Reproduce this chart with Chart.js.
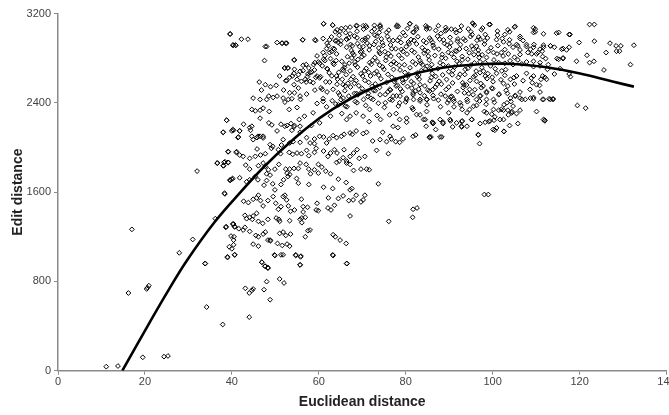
<!DOCTYPE html>
<html>
<head>
<meta charset="utf-8">
<script src="https://cdn.jsdelivr.net/npm/chart.js@4.4.1/dist/chart.umd.min.js"></script>
<style>
  html, body { margin: 0; padding: 0; background: #fff; overflow: hidden; }
</style>
</head>
<body>
<canvas id="chart" width="680" height="415"></canvas>
<script>
// scatter, [euclidean, edit] pairs, grouped by area
const lowScatter = [
  [11.1,36],[13.8,42],[16.2,696],[17.0,1266],[19.5,120],[20.4,732],[20.6,744],[20.9,762],[24.4,126],[25.3,132],
  [27.9,1056],[31.0,1176],[32.0,1788],[33.9,960],[34.2,570],[36.2,1362],[37.9,414],[38.4,1584],[38.7,1290],[39.0,1014],
  [39.8,1206],[40.4,1170],[40.5,1200],[40.4,1314],[40.7,1290],[40.7,1038],[43.1,738],[44.0,696],[44.6,720],[44.9,732],
  [44.0,480],[46.9,972],[47.6,936],[48.3,918],[47.4,726],[48.0,798],[48.8,636],[49.8,1038],[51.3,1038],[51.0,822],
  [52.0,786],[54.7,1038],[55.9,1026],[55.7,948],[63.2,1038],[66.5,960],[39.6,3018],[40.2,2916],[40.9,2916],[38.8,2244],
  [40.2,2160],[41.4,2088],[39.1,1962],[41.1,1962],[36.7,1860],[38.2,1866],[39.1,1866],[38.1,1836],[39.6,1710],[40.2,1722]
];

const risingFlank = [
  [38.0,2136],[40.4,2154],[41.8,2148],[44.3,2154],[46.5,2100],[47.2,2085],[48.8,2025],[49.4,2010],[45.8,2088],[44.9,2070],
  [51.4,2022],[51.8,2070],[53.3,2040],[54.1,2052],[55.7,2136],[55.7,2046],[57.2,2088],[58.0,2040],[59.0,2076],[59.0,2034],
  [60.2,2100],[61.1,2094],[61.8,2040],[62.4,2076],[63.3,2106],[64.1,2088],[65.2,2100],[65.8,2118],[67.2,2130],[67.7,2118],
  [68.6,2148],[70.2,2124],[71.0,2136],[72.4,2058],[74.1,2070],[74.7,2136],[75.6,2052],[76.7,2076],[77.7,2052],[78.6,2046],
  [79.4,2076],[81.7,2100],[82.3,2112],[85.5,2094],
  [39.2,1962],[41.0,1956],[42.6,1920],[41.8,1932],[44.1,1902],[45.4,1920],[46.6,1932],[47.7,1944],[45.8,1986],[49.1,1992],
  [50.7,1980],[51.2,1944],[53.2,1956],[54.0,1938],[55.0,1950],[56.0,1944],[57.2,1974],[57.7,1926],[59.0,1956],[59.4,1992],
  [61.1,1968],[62.1,1920],[62.7,1950],[63.6,1980],[64.2,1950],[65.6,1908],[66.4,1878],[65.8,1980],[67.2,1920],[68.0,1950],
  [68.8,1980],[69.3,1902],[70.6,1920],[73.3,1974],[76.0,1944],
  [36.6,1860],[38.0,1836],[38.4,1872],[39.2,1866],[40.0,1716],[39.6,1704],[43.2,1842],[44.1,1806],[46.1,1836],[47.2,1860],
  [47.7,1830],[48.4,1800],[48.0,1764],[49.9,1806],[50.8,1848],[52.4,1806],[52.7,1770],[53.3,1806],[54.3,1812],[55.3,1812],
  [55.7,1860],[57.1,1848],[57.7,1806],[58.1,1764],[59.0,1800],[59.9,1770],[59.9,1848],[60.7,1824],[61.6,1788],[62.7,1764],
  [64.1,1866],[64.7,1878],[66.4,1860],[67.2,1848],[68.0,1794],[69.7,1806],[71.0,1806],[71.6,1800],[73.7,1674],
  [41.8,1728],[43.4,1692],[44.1,1710],[45.4,1740],[46.0,1710],[47.4,1662],[48.0,1704],[48.8,1752],[49.4,1674],[49.9,1620],
  [51.3,1668],[51.9,1710],[52.9,1740],[53.3,1758],[54.9,1722],[55.3,1680],[57.7,1668],[61.1,1644],[63.2,1632],[64.5,1716],
  [66.3,1686],[67.2,1620],[67.6,1632],[68.6,1572],[69.7,1512],[70.2,1530],[70.6,1572],[65.6,1566],[64.5,1542],[63.6,1482],
  [62.2,1548],[66.9,1524],[67.9,1530],[38.3,1590],[38.6,1284],
  [42.7,1518],[43.8,1506],[44.9,1536],[45.7,1548],[46.1,1572],[46.6,1524],[47.2,1476],[48.3,1524],[49.5,1560],[50.1,1500],
  [50.7,1446],[51.3,1470],[51.8,1560],[52.2,1572],[52.6,1530],[53.0,1476],[53.5,1428],[54.4,1440],[56.0,1536],[56.4,1470],
  [57.4,1464],[59.6,1500],[59.9,1434],[62.1,1458],[62.8,1440],[59.4,1440],
  [43.0,1392],[43.4,1362],[44.1,1374],[44.7,1356],[44.9,1386],[45.7,1410],[46.1,1338],[47.1,1320],[48.3,1356],[50.2,1368],
  [50.8,1356],[51.0,1338],[53.3,1344],[55.7,1356],[56.1,1368],[56.4,1422],[56.1,1326],[56.9,1374],[57.5,1254],[56.9,1200],
  [58.0,1260],[67.2,1386],[76.1,1338],[81.6,1374],[81.7,1446],[82.6,1458],
  [40.2,1314],[40.6,1290],[41.6,1272],[42.6,1260],[43.0,1284],[44.1,1248],[45.5,1212],[46.1,1200],[47.2,1224],[47.7,1242],
  [48.3,1170],[48.9,1164],[51.0,1230],[51.8,1242],[52.4,1212],[53.5,1224],[63.3,1218],[63.8,1200],[64.9,1170],[66.3,1140],
  [39.4,1110],[40.4,1128],[40.0,1092],[40.6,1038],[39.0,1020],[44.9,1134],[46.1,1116],[48.8,1170],[49.9,1032],[50.5,1140],
  [51.6,1122],[52.7,1134],[51.8,1038],[53.3,1116],[54.7,1032],[55.8,1020],[55.7,948],[63.3,1032],[66.4,960],[33.8,960],
  [46.9,972],[47.7,936],[48.3,924]
];

const upperFlank = [
  [39.6,3015],[40.4,2916],[40.9,2916],[42.2,2970],[43.7,2970],[47.7,2904],[48.0,2904],[50.4,2940],[51.5,2934],[52.6,2934],
  [47.5,2778],[52.2,2712],[52.9,2712],[54.3,2784],[56.3,2964],[59.3,2958],[61.1,3108],[63.2,3096],[64.2,3054],[64.9,3042],
  [63.8,3036],[66.4,2970],[67.2,3018],[68.6,3090],[70.2,3090],[71.0,3078],[74.1,3096],[74.2,3066],[75.6,3030],
  [61.9,2934],[62.5,2964],[64.1,2958],[61.8,2886],[61.0,2850],[59.6,2820],[60.2,2754],[59.1,2760],[61.4,2778],
  [57.1,2742],[57.7,2712],[56.4,2688],[55.3,2652],[55.0,2610],[56.0,2592],[57.4,2634],[57.1,2586],[58.0,2670],[59.0,2694],
  [59.6,2640],[58.7,2580],
  [54.4,2700],[54.3,2664],[53.3,2628],[52.4,2598],[51.0,2640],[50.2,2556],[48.9,2544],[49.5,2448],[48.5,2460],[47.7,2562],
  [46.3,2586],[46.8,2514],[44.9,2442],[46.5,2430],[48.0,2430],[50.4,2460],[51.8,2442],[53.3,2490],[53.0,2430],[54.4,2490],
  [55.7,2460],
  [44.6,2340],[46.5,2334],[47.2,2352],[45.4,2328],[48.6,2322],[42.7,2208],[44.1,2178],[44.6,2190],[41.8,2148],[40.0,2148],
  [38.8,2244],[38.0,2136],[46.5,2262],[48.5,2220],[49.2,2202],[50.4,2148],[51.3,2208],[52.7,2196],[53.6,2214],[54.3,2184],
  [55.7,2190],[53.8,2154],[46.0,2100],[47.2,2100],[44.6,2100],[41.5,2094]
];

const middleBand = [
  [61.1,3108],[63.2,3096],[65.2,3066],[67.2,3078],[68.8,3090],[70.8,3090],[72.8,3060],[74.1,3084],[78.0,3096],[80.9,3108],
  [82.5,3060],[84.8,3060],
  [51.6,2934],[52.4,2934],[56.3,2964],[59.1,2964],[61.0,2976],[63.3,2886],[62.5,2850],[64.5,2940],[66.4,2970],[67.7,2910],
  [68.8,2982],[70.6,2958],[71.7,2910],[69.9,2862],
  [54.4,2784],[52.1,2712],[52.9,2712],[53.9,2640],[55.7,2682],[56.4,2736],[57.5,2658],[58.4,2676],[58.8,2742],[59.9,2766],
  [61.1,2790],[61.9,2706],[63.3,2754],[64.1,2640],[65.5,2700],
  [52.6,2598],[54.3,2562],[55.3,2532],[56.9,2610],[58.0,2592],[59.3,2628],[60.4,2634],[62.5,2586],[60.8,2520],[59.1,2514],
  [57.2,2478],[55.8,2430],[53.8,2436],[51.9,2514],[52.2,2406],[53.2,2340],[55.0,2358],[55.5,2250],[56.7,2280],[58.7,2310],
  [59.6,2394],[61.0,2412],[61.8,2364],[63.1,2418],[62.7,2280],[64.5,2382],[65.3,2304],[66.4,2250],[66.1,2370],[67.2,2280],
  [68.6,2310],[70.2,2280],[71.7,2340],[71.6,2232],[73.4,2286],[74.2,2250],[76.3,2292],[77.8,2304],[78.6,2250],[80.2,2262],
  [81.7,2340],[83.3,2292],[84.8,2322],[84.5,2250],[60.2,2220],[58.3,2196],[54.4,2196],[52.2,2190],
  [68.8,2400],[70.3,2430],[72.5,2430],[74.1,2472],[75.3,2400],[77.1,2460],[78.6,2400],[80.2,2442],[81.7,2472],[83.3,2490],
  [84.8,2430],[76.3,2520],[77.8,2550],[79.4,2580],[81.4,2532],[83.3,2562],[85.1,2514],[73.0,2508],[71.4,2484],[69.9,2496],
  [68.2,2484],[66.9,2460],[65.6,2442],[64.5,2490],[66.1,2550],[67.4,2610],[68.2,2574]
];

const denseCore = [
  [66.2,3072],[70.3,3060],[72.8,3094],[76.1,3051],[77.9,3083],[80.4,3066],[84.6,3090],[86.9,3048],[89.2,3075],[92.8,3088],
  [94.4,3062],[97.7,3070],[68.8,3041],[73.9,3030],[81.7,3034],[88.1,3021],[91.6,3029],[95.3,3011],
  [62.9,2990],[64.7,3005],[66.9,2981],[68.2,2998],[70.0,2961],[71.3,2989],[72.9,3006],[74.4,2972],[75.8,2994],[77.1,2958],
  [78.6,2985],[79.9,3002],[81.2,2967],[82.8,2992],[84.1,2955],[85.5,2979],[87.3,2997],[88.7,2963],[90.2,2986],[91.9,2951],
  [93.3,2974],[94.9,2993],[96.4,2960],[98.8,2981],[100.9,2966],[63.8,2955],[73.1,2949],[80.6,2944],[86.2,2940],
  [62.2,2912],[63.6,2881],[65.0,2924],[66.4,2897],[67.5,2868],[68.9,2931],[70.2,2903],[71.6,2874],[72.7,2922],[73.8,2891],
  [75.2,2858],[76.5,2918],[77.7,2884],[78.9,2940],[80.1,2902],[81.4,2869],[82.5,2927],[83.8,2894],[85.1,2861],[86.3,2915],
  [87.6,2880],[88.9,2932],[90.1,2899],[91.4,2866],[92.6,2921],[93.9,2886],[95.2,2909],[96.7,2872],[98.1,2926],[99.6,2893],
  [101.2,2912],[102.8,2877],[69.6,2855],[74.6,2937],[79.4,2860],[84.7,2938],[89.8,2852],[94.6,2848],
  [61.4,2822],[62.7,2796],[64.1,2838],[65.3,2771],[66.6,2813],[67.8,2846],[69.0,2788],[70.4,2827],[71.7,2760],[72.9,2805],
  [74.1,2841],[75.4,2779],[76.6,2818],[77.8,2752],[79.1,2797],[80.3,2836],[81.6,2768],[82.9,2810],[84.2,2845],[85.4,2783],
  [86.7,2824],[87.9,2758],[89.2,2799],[90.5,2839],[91.8,2772],[93.0,2815],[94.3,2790],[95.7,2831],[97.1,2767],[98.6,2806],
  [100.3,2784],[102.4,2819],[104.0,2776],[68.3,2765],[73.5,2770],[78.4,2826],[83.5,2756],[88.4,2833],[92.3,2750],
  [60.8,2731],[62.0,2702],[63.5,2744],[64.6,2673],[65.9,2717],[67.2,2686],[68.4,2739],[69.7,2660],[70.9,2708],[72.1,2745],
  [73.3,2681],[74.7,2721],[75.9,2655],[77.2,2699],[78.5,2736],[79.8,2672],[81.0,2714],[82.3,2747],[83.6,2688],[84.9,2728],
  [86.1,2663],[87.4,2706],[88.6,2742],[89.9,2679],[91.2,2720],[92.5,2656],[93.7,2700],[95.0,2738],[96.2,2684],[97.5,2716],
  [98.9,2661],[100.6,2705],[102.1,2686],[66.3,2652],[71.5,2673],[76.6,2744],[80.7,2653],[85.8,2700],[90.7,2651],
  [60.2,2623],[61.6,2588],[63.0,2641],[64.2,2566],[65.4,2610],[66.7,2575],[67.9,2634],[69.2,2553],[70.6,2601],[71.9,2640],
  [73.0,2569],[74.3,2615],[75.6,2582],[76.8,2628],[78.1,2557],[79.3,2604],[80.6,2642],[81.8,2573],[83.1,2612],[84.4,2551],
  [85.6,2597],[86.9,2636],[88.2,2567],[89.4,2609],[90.8,2578],[92.1,2627],[93.4,2560],[94.8,2601],[96.0,2644],[97.3,2572],
  [98.7,2617],[100.1,2589],[101.9,2606],[68.6,2599],[73.8,2648],[77.4,2590],[82.7,2633],[87.7,2593],
  [60.5,2534],[61.9,2497],[63.3,2521],[64.8,2470],[66.0,2508],[67.3,2541],[68.7,2483],[70.0,2526],[71.3,2456],[72.6,2511],
  [74.0,2538],[75.3,2474],[76.5,2515],[77.9,2462],[79.2,2501],[80.4,2546],[81.7,2488],[83.0,2523],[84.3,2463],[85.5,2505],
  [86.8,2541],[88.1,2477],[89.3,2519],[90.6,2458],[91.9,2502],[93.2,2536],[94.5,2481],[95.9,2517],[97.2,2464],[98.6,2500],
  [100.0,2527],[101.5,2478],[103.1,2511],
  [61.0,2437],[63.9,2389],[65.1,2428],[66.5,2364],[68.4,2411],[70.8,2376],[72.0,2441],[73.7,2396],[75.1,2359],[76.9,2423],
  [78.3,2371],[80.0,2408],[81.5,2356],[83.3,2415],[84.9,2382],[86.4,2437],[88.0,2365],[89.6,2401],[91.0,2432],[92.7,2378],
  [94.2,2410],[95.6,2369],[97.0,2416],[98.5,2387],[100.4,2404]
];

// extra marks where the cloud is darkest
const coreFill = [
  [64.3,2612],[65.7,2688],[67.0,2755],[68.1,2829],[69.4,2903],[70.7,2977],[72.2,3040],[73.4,2996],[74.8,2913],[76.0,2842],
  [77.3,2768],[78.7,2694],[80.0,2616],[81.3,2590],[82.6,2667],[83.9,2741],[85.2,2818],[86.5,2892],[87.8,2969],[89.1,3044],
  [90.4,2937],[91.7,2861],[93.0,2784],[94.3,2709],[95.6,2633],[96.9,2805],[98.2,2955],[99.5,2731],[65.1,2955],[66.2,3028],
  [67.6,2801],[68.9,2719],[70.1,2640],[71.5,2583],[72.8,2664],[74.0,2737],[75.5,2809],[76.8,2884],[78.1,2959],[79.4,3029],
  [80.8,2927],[82.0,2852],[83.3,2777],[84.6,2702],[85.9,2626],[87.2,2565],[88.5,2650],[89.8,2729],[91.1,2806],[92.4,2882],
  [93.7,2958],[95.0,3036],[96.3,2907],[97.6,2830],[63.0,2860],[64.0,2778],[66.0,2740],[69.9,2812],[71.1,2935],[73.9,2855],
  [75.0,2700],[77.6,2608],[79.0,2878],[81.9,2958],[84.4,2870],[86.0,2742],[88.3,2803],[90.9,2690],[92.0,2972],[94.0,2560],
  [95.8,2757],[97.9,2683],[99.0,2860],[101.0,2838],[67.3,2922],[70.5,2686],[72.4,2781],[76.2,2964],[79.7,2741],[83.0,2649],
  [85.8,2963],[89.5,2918],[93.6,2654],[96.8,2989],[62.4,2668],[65.6,2563],[69.0,2471],[72.3,2547],[75.9,2498],[78.8,2523],
  [82.2,2505],[86.2,2518],[89.9,2541],[93.5,2489],[97.4,2535],[99.9,2629],[101.4,2759],[103.0,2697],[104.9,2626]
];

const rightBand = [
  [78.3,3084],[81.0,3108],[82.4,3078],[81.8,3030],[84.9,3078],[85.5,3066],[87.5,3090],[89.4,3054],[90.5,3060],[91.4,3054],
  [92.5,3048],[95.4,3114],[95.8,3096],[99.4,3102],[97.4,3054],[101.1,3042],[102.8,3012],[105.0,3078],[103.5,3054],[106.3,2994],
  [107.0,2958],[109.4,3030],[109.8,3060],[111.7,3018],[115.2,3030],[117.8,3012],[119.9,2940],[122.3,3102],[123.4,3102],[127.0,2934],
  [123.4,2952],[126.1,2850],[128.4,2910],[129.5,2910],[128.5,2862],[129.2,2862],[132.5,2916],[131.7,2742],[125.6,2694],[119.3,2772],
  [122.3,2760],[123.3,2772],[121.7,2826],[115.9,2880],[117.0,2874],[115.2,2790],[116.2,2796],[113.3,2910],[111.7,2916],[110.9,2880],
  [112.2,2796],[110.1,2838],[111.4,2862],[109.5,2922],[108.7,2880],[107.8,2904],[106.3,2874],[104.7,2898],[105.5,2922],[103.9,2964],
  [102.5,2946],[105.8,2784],[107.8,2766],[109.4,2772],[110.9,2760],[112.8,2742],[107.8,2664],[109.4,2640],[111.5,2640],[112.4,2610],
  [109.1,2580],[110.8,2556],[110.9,2496],[111.5,2430],[113.0,2436],[113.9,2436],[109.4,2448],[108.7,2442],[107.5,2430],[106.3,2442],
  [105.2,2460],[104.1,2442],[104.7,2370],[103.3,2400],[103.5,2334],[104.4,2310],[105.5,2304],[102.0,2340],[100.2,2340],[98.6,2310],
  [99.4,2238],[102.5,2250],[100.9,2175],[102.6,2145],[100.5,2154],[97.1,2214],[96.7,2115],[94.1,2310],[94.1,2190],[92.8,2190],
  [91.7,2220],[90.2,2250],[88.6,2214],[87.9,2094],[85.8,2094],[86.3,2220],[84.7,2190],[84.1,2250],[82.5,2295],[80.2,2226],
  [78.2,2178],[77.1,2190],[76.4,2100],[117.9,2634],[119.5,2376],[121.4,2352],[112.0,2244],[105.8,2214],[103.6,2292],[100.2,2430],
  [98.6,2490],[97.1,2460],[95.5,2472],[96.3,2430],[94.1,2430],[92.5,2400],[91.1,2412],[89.9,2424],[90.3,2454],[89.1,2460],
  [87.5,2424],[86.3,2466],[84.9,2430],[83.3,2430],[81.8,2430],[78.7,2460],[80.2,2430],[76.4,2430]
];

const rightInner = [
  [95.5,3108],[99.2,3102],[105.2,3084],[109.4,3072],[109.8,3036],[114.7,3024],[117.6,3012],[98.3,3012],[101.1,3006],[102.2,2976],
  [103.8,2928],[105.8,2910],[107.8,2922],[109.4,2898],[111.7,2898],[113.3,2910],[114.2,2898],[108.1,2850],[109.0,2838],[110.4,2850],
  [111.5,2814],[114.8,2796],[116.2,2802],[116.2,2886],[117.6,2898],[106.3,2976],[103.9,3036],[97.1,2970],[95.5,2880],[96.7,2838],
  [100.2,2850],[98.3,2760],[102.0,2850],[103.6,2838],[105.0,2808],[106.3,2832],[102.8,2754],[104.7,2742],[106.7,2748],[109.4,2724],
  [110.9,2730],[112.6,2700],[114.2,2658],[115.5,2706],[117.6,2658],[97.1,2670],[98.3,2640],[100.9,2664],[102.8,2646],[104.1,2610],
  [105.5,2640],[107.0,2598],[108.9,2622],[111.1,2610],[112.0,2628],[110.1,2562],[108.6,2520],[105.0,2568],[102.5,2574],[103.5,2550],
  [99.8,2532],[97.8,2550],[96.3,2592],[94.7,2520],[93.1,2580],[98.6,2430],[101.4,2472],[103.4,2484],[105.2,2466],[106.3,2496],
  [102.6,2382],[104.2,2412],[106.7,2430],[109.4,2436],[111.7,2430],[113.3,2430],[113.9,2430],[110.1,2322],[111.7,2250],[106.3,2334],
  [104.4,2322],[102.5,2334],[101.4,2334],[99.8,2298],[98.1,2322],[96.3,2376],[94.7,2340],[93.0,2340],[91.1,2364],[89.9,2310],
  [87.9,2250],[86.9,2160],[86.3,2214],[93.0,2238],[95.2,2250],[99.1,2232],[100.5,2274],[101.7,2250],[103.9,2196]
];

const rightLower = [
  [86.1,2226],[88.6,2226],[90.3,2238],[92.9,2232],[95.2,2250],[98.3,2226],[100.3,2244],[112.0,2238],[90.8,2184],[92.9,2184],
  [88.3,2094],[85.5,2088],[96.7,2112],[100.1,2160],[102.6,2142],[97.0,2034],[98.1,1578],[99.0,1578]
];

// trend curve, read at points along the drawn line
const trendX = [14.8, 21.2, 25.7, 29.7, 36, 42, 48, 56.8, 63.3, 71, 78.6, 87.8, 96.9, 104.8, 112.4, 120.1, 127.6, 132.5];
const trendY = [0, 440, 740, 990, 1330, 1600, 1850, 2160, 2345, 2510, 2625, 2710, 2745, 2748, 2718, 2662, 2590, 2545];

const xTicks = [0, 20, 40, 60, 80, 100, 120, 140];
const yTicks = [0, 800, 1600, 2400, 3200];

const scatterPoints = [lowScatter, risingFlank, upperFlank, middleBand, denseCore, coreFill, rightBand, rightInner, rightLower]
  .flat()
  .map(p => ({ x: p[0], y: p[1] }));
const trendPoints = trendX.map((x, i) => ({ x: x, y: trendY[i] }));

Chart.defaults.font.family = 'Arial, "Liberation Sans", sans-serif';

const axisGrey = '#8a8a8a';

new Chart(document.getElementById('chart'), {
  type: 'scatter',
  data: {
    datasets: [
      {
        type: 'line',
        data: trendPoints,
        borderColor: '#000',
        borderWidth: 2.6,
        pointRadius: 0,
        tension: 0.4,
        fill: false,
        order: 0
      },
      {
        data: scatterPoints,
        pointStyle: 'rectRot',
        pointRadius: 2.4,
        borderColor: '#000',
        borderWidth: 1,
        backgroundColor: 'rgba(0,0,0,0)',
        order: 1
      }
    ]
  },
  options: {
    responsive: false,
    animation: false,
    layout: { padding: { top: 13.5, right: 13.5, left: 0, bottom: 0 } },
    plugins: {
      legend: { display: false },
      tooltip: { enabled: false }
    },
    scales: {
      x: {
        type: 'linear',
        min: 0,
        max: 140,
        afterBuildTicks: s => { s.ticks = xTicks.map(v => ({ value: v })); },
        afterFit: s => { s.height = 44.3; },
        ticks: { color: '#444', font: { size: 11 }, padding: 1, callback: v => String(v) },
        grid: { drawOnChartArea: false, color: axisGrey, tickLength: 4 },
        border: { color: axisGrey, width: 1.5 },
        title: {
          display: true,
          text: 'Euclidean distance',
          color: '#222',
          font: { size: 14, weight: 'bold' },
          padding: { top: 0, bottom: 4 }
        }
      },
      y: {
        min: 0,
        max: 3200,
        afterBuildTicks: s => { s.ticks = yTicks.map(v => ({ value: v })); },
        afterFit: s => { s.width = 58; },
        ticks: { color: '#444', font: { size: 11 }, padding: 3, callback: v => String(v) },
        grid: { drawOnChartArea: false, color: axisGrey, tickLength: 4 },
        border: { color: axisGrey, width: 1.5 },
        title: {
          display: true,
          text: 'Edit distance',
          color: '#222',
          font: { size: 14, weight: 'bold' },
          padding: { top: 9.6, bottom: 0 }
        }
      }
    }
  }
});
</script>
</body>
</html>
